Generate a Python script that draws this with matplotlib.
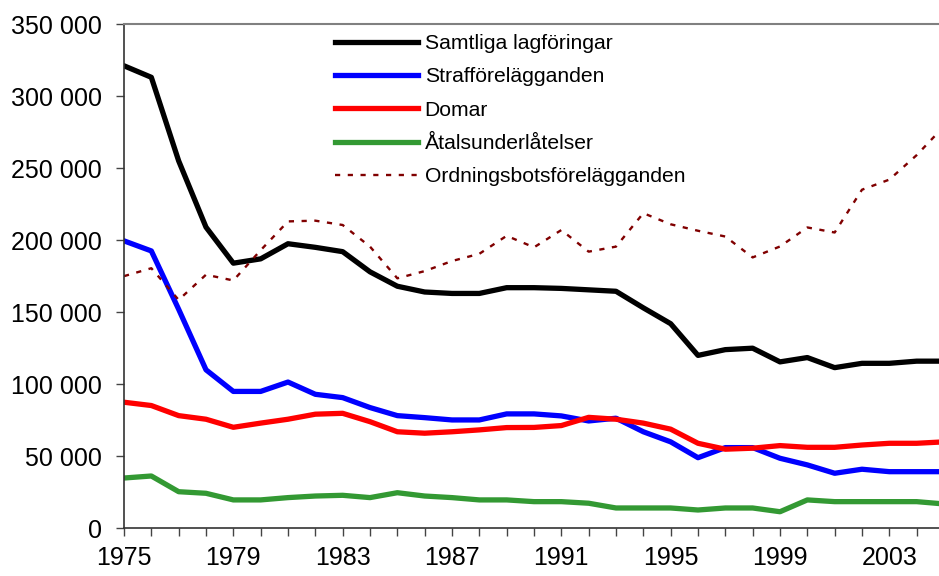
import matplotlib
matplotlib.use("Agg")
import matplotlib.pyplot as plt
from matplotlib.ticker import FuncFormatter, MultipleLocator

years = list(range(1975, 2006))

samtliga = [321000, 313000, 255000, 209000, 184000, 187000, 197500, 195000, 192000, 178000,
            168000, 164000, 163000, 163000, 167000, 167000, 166500, 165500, 164500, 153000,
            142000, 120000, 124000, 125000, 115500, 118500, 111500, 114500, 114500, 116000, 116000]

straff = [199500, 192500, 152000, 110000, 95000, 95000, 101500, 93000, 90700, 83800,
          78200, 76800, 75200, 75200, 79400, 79400, 78000, 74500, 76400, 67000,
          60000, 49000, 56000, 56000, 48600, 44000, 38200, 41000, 39300, 39300, 39300]

domar = [87500, 85200, 78200, 75700, 70100, 73000, 75700, 79200, 79800, 74000,
         67000, 66000, 67000, 68300, 69900, 70000, 71300, 77000, 75700, 73000,
         68800, 59000, 54900, 55600, 57400, 56200, 56200, 57800, 59000, 59000, 60000]

atal = [34900, 36300, 25400, 24300, 19700, 19700, 21300, 22400, 22900, 21300,
        24700, 22400, 21300, 19700, 19700, 18500, 18500, 17400, 14100, 14100,
        14100, 12700, 14100, 14100, 11500, 19700, 18500, 18500, 18500, 18500, 16900]

ordning = [175000, 180500, 158500, 176000, 172000, 193000, 213000, 213500, 210500, 195500,
           173500, 178500, 185500, 190500, 203000, 195000, 207000, 192000, 195500, 218700,
           211000, 206500, 202500, 188000, 195600, 208800, 205300, 235000, 242000, 259000, 279000]

labels = ["Samtliga lagföringar", "Strafförelägganden", "Domar",
          "Åtalsunderlåtelser", "Ordningsbotsförelägganden"]

plt.rcParams['font.family'] = ['Liberation Sans', 'DejaVu Sans']

W, H = 939, 576
fig = plt.figure(figsize=(W / 100, H / 100), dpi=100)
x0, x1 = 124, 944
y0, y1 = 528.3, 24
ax = fig.add_axes([x0 / W, (H - y0) / H, (x1 - x0) / W, (y0 - y1) / H])

lw = 3.8
ax.plot(years, samtliga, color="black", lw=lw, label=labels[0])
ax.plot(years, straff, color="#0000FF", lw=lw, label=labels[1])
ax.plot(years, domar, color="#FF0000", lw=lw, label=labels[2])
ax.plot(years, atal, color="#339933", lw=lw, label=labels[3])
ax.plot(years, ordning, color="#800000", lw=1.7, ls=(0, (2.2, 3.2)), label=labels[4])

ax.set_xlim(1975, 2005)
ax.set_ylim(0, 350000)

ax.yaxis.set_major_locator(MultipleLocator(50000))
ax.yaxis.set_major_formatter(FuncFormatter(lambda v, p: f"{int(v):,}".replace(",", " ")))
ax.set_xticks(years)
ax.set_xticklabels([str(y) if (y - 1975) % 4 == 0 else "" for y in years])

ax.tick_params(axis="both", direction="out", length=6, width=1.0, color="#444444",
               labelsize=18)
ax.tick_params(axis="y", pad=10)
ax.tick_params(axis="x", pad=7)

ax.spines["right"].set_visible(False)
ax.spines["top"].set_color("#808080")
ax.spines["top"].set_linewidth(1.5)
for s in ["left", "bottom"]:
    ax.spines[s].set_color("#333333")
    ax.spines[s].set_linewidth(1.2)

leg = fig.legend(loc="upper left", bbox_to_anchor=(335 / W, 1 - 34 / H),
                 frameon=False, fontsize=15.2, handlelength=3.95, handletextpad=0.3,
                 labelspacing=0.68, borderpad=0, borderaxespad=0)

fig.savefig("out.png", dpi=100)
